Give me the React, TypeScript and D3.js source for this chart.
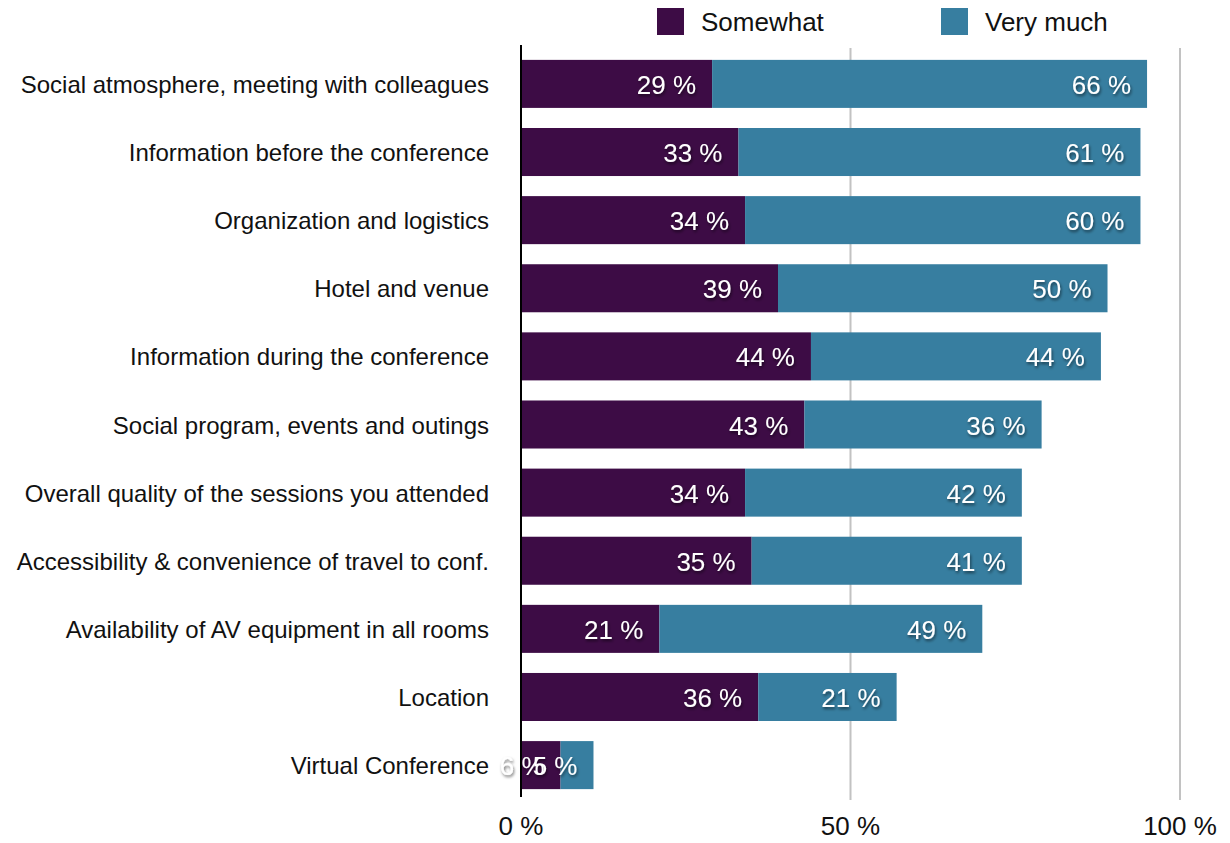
import React from "react";
import * as d3 from "d3";

const categories = [
  "Social atmosphere, meeting with colleagues",
  "Information before the conference",
  "Organization and logistics",
  "Hotel and venue",
  "Information during the conference",
  "Social program, events and outings",
  "Overall quality of the sessions you attended",
  "Accessibility & convenience of travel to conf.",
  "Availability of AV equipment in all rooms",
  "Location",
  "Virtual Conference",
];
const somewhat = [29, 33, 34, 39, 44, 43, 34, 35, 21, 36, 6];
const veryMuch = [66, 61, 60, 50, 44, 36, 42, 41, 49, 21, 5];
const xTicks = [0, 50, 100];
const seriesNames = ["Somewhat", "Very much"];
const colors = ["#3d0c45", "#377ea0"];

const FONT = "'Liberation Sans', Arial, Helvetica, sans-serif";

export default function App() {
  const W = 1230, H = 843;
  const x = d3.scaleLinear().domain([0, 100]).range([521, 1180]);
  const y = d3.scaleBand<string>().domain(categories).range([50, 799]).paddingInner(0.295).paddingOuter(0.145);
  const bh = y.bandwidth();

  return (
    <svg width={W} height={H} style={{ position: "absolute", left: 0, top: 0, background: "#fff" }}>
      <defs>
        <filter id="ts" x="-20%" y="-40%" width="140%" height="180%">
          <feDropShadow dx="1" dy="2" stdDeviation="1.6" floodColor="#000" floodOpacity="0.55" />
        </filter>
      </defs>
      {/* legend */}
      {seriesNames.map((s, i) => {
        const lx = i === 0 ? 657 : 941;
        return (
          <g key={s}>
            <rect x={lx} y={8} width={27} height={27} fill={colors[i]} />
            <text x={lx + 44} y={31} fontFamily={FONT} fontSize={26} fill="#111">{s}</text>
          </g>
        );
      })}
      {/* grid */}
      {xTicks.filter((t) => t > 0).map((t) => (
        <line key={t} x1={x(t)} x2={x(t)} y1={48} y2={800} stroke="#c2c2c2" strokeWidth={2} />
      ))}
      {/* bars */}
      {categories.map((c, i) => {
        const yy = y(c)!;
        const s = somewhat[i], v = veryMuch[i];
        return (
          <g key={c}>
            <rect x={x(0)} y={yy} width={x(s) - x(0)} height={bh} fill={colors[0]} />
            <rect x={x(s)} y={yy} width={x(s + v) - x(s)} height={bh} fill={colors[1]} />
          </g>
        );
      })}
      {/* zero axis */}
      <line x1={x(0)} x2={x(0)} y1={45} y2={797} stroke="#000" strokeWidth={2} />
      {/* value labels */}
      {categories.map((c, i) => {
        const cy = y(c)! + bh / 2 + 10;
        const s = somewhat[i], v = veryMuch[i];
        return (
          <g key={c + "l"} filter="url(#ts)">
            <text x={x(s) - 16} y={cy} textAnchor="end" fontFamily={FONT} fontSize={26} fill="#fff">{s} %</text>
            <text x={x(s + v) - 16} y={cy} textAnchor="end" fontFamily={FONT} fontSize={26} fill="#fff">{v} %</text>
          </g>
        );
      })}
      {/* category labels */}
      {categories.map((c) => (
        <text key={c + "c"} x={489} y={y(c)! + bh / 2 + 9} textAnchor="end" fontFamily={FONT} fontSize={24} fill="#111">{c}</text>
      ))}
      {/* x tick labels */}
      {xTicks.map((t) => (
        <text key={t + "t"} x={x(t)} y={835} textAnchor="middle" fontFamily={FONT} fontSize={26} fill="#111">{t} %</text>
      ))}
    </svg>
  );
}
